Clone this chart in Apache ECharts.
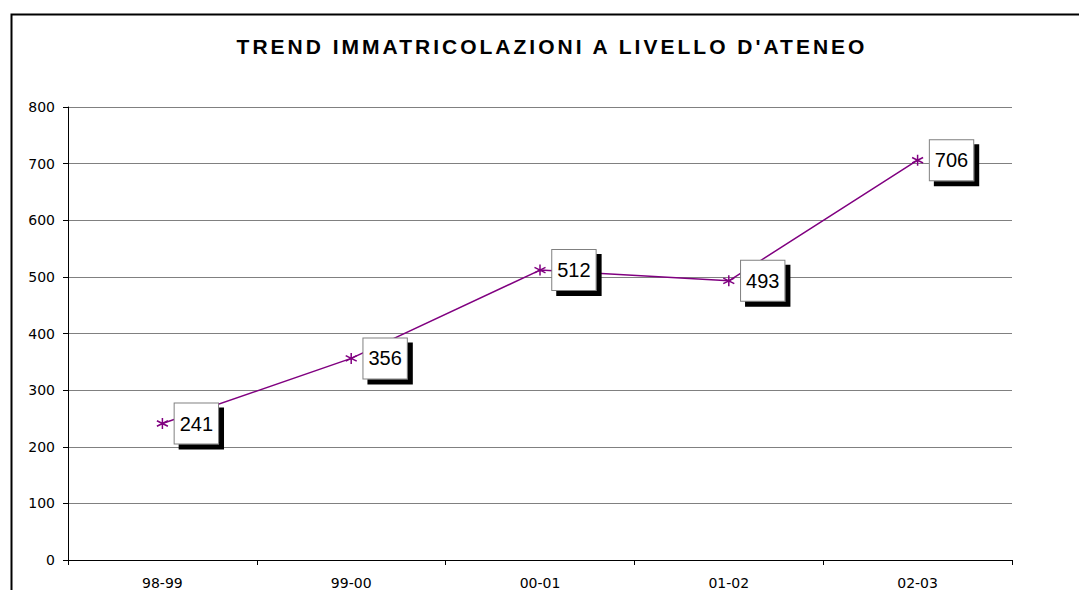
<!DOCTYPE html>
<html>
<head>
<meta charset="utf-8">
<script src="https://cdn.jsdelivr.net/npm/echarts@6/dist/echarts.min.js"></script>
<style>
html,body{margin:0;padding:0;background:#fff;}
#chart{width:1079px;height:590px;}
#chart svg text[style*="bold"]{letter-spacing:3px;}
</style>
</head>
<body>
<div id="chart"></div>
<script>
var titleText = "TREND IMMATRICOLAZIONI A LIVELLO D'ATENEO";
var categories = ["98-99", "99-00", "00-01", "01-02", "02-03"];
var enrolments = [241, 356, 512, 493, 706];
var yTicks = [0, 100, 200, 300, 400, 500, 600, 700, 800];

var chart = echarts.init(document.getElementById('chart'), null, {renderer: 'svg'});
var option = {
  backgroundColor: '#ffffff',
  animation: false,
  graphic: [{
    type: 'rect',
    left: 9, top: 12,
    shape: {width: 1100, height: 620},
    style: {fill: 'none', stroke: '#000', lineWidth: 2},
    silent: true
  }],
  title: {
    text: titleText,
    left: 547,
    textAlign: 'center',
    top: 31,
    textStyle: {
      fontFamily: 'Liberation Sans',
      fontWeight: 'bold',
      fontSize: 21,
      color: '#000'
    }
  },
  grid: {left: 68, right: 67, top: 107, bottom: 30, containLabel: false},
  xAxis: {
    type: 'category',
    data: categories,
    boundaryGap: true,
    axisLine: {lineStyle: {color: '#000', width: 1}},
    axisTick: {show: true, length: 5, inside: false, lineStyle: {color: '#000'}},
    axisLabel: {fontFamily: 'DejaVu Sans', fontSize: 14, color: '#000', margin: 16},
    splitLine: {show: false}
  },
  yAxis: {
    type: 'value',
    min: yTicks[0],
    max: yTicks[yTicks.length - 1],
    interval: yTicks[1] - yTicks[0],
    axisLine: {show: true, lineStyle: {color: '#000', width: 1}},
    axisTick: {show: true, length: 5, lineStyle: {color: '#000'}},
    axisLabel: {fontFamily: 'DejaVu Sans', fontSize: 14, color: '#000', margin: 13},
    splitLine: {show: true, lineStyle: {color: '#808080', width: 1}}
  },
  series: [{
    type: 'line',
    data: enrolments,
    symbol: 'path://M0,-10L0,10M-8.66,-5L8.66,5M-8.66,5L8.66,-5',
    symbolSize: 11,
    itemStyle: {color: '#800080', borderColor: '#800080', borderWidth: 1.5},
    lineStyle: {color: '#800080', width: 1.5},
    label: {
      show: true,
      position: 'right',
      distance: 6,
      fontFamily: 'Liberation Sans',
      fontSize: 20,
      color: '#000',
      backgroundColor: '#fff',
      borderColor: '#808080',
      borderWidth: 1,
      padding: [10, 5, 10, 5],
      lineHeight: 20,
      shadowColor: '#000',
      shadowBlur: 0,
      shadowOffsetX: 5,
      shadowOffsetY: 5
    }
  }]
};
chart.setOption(option);
</script>
</body>
</html>
